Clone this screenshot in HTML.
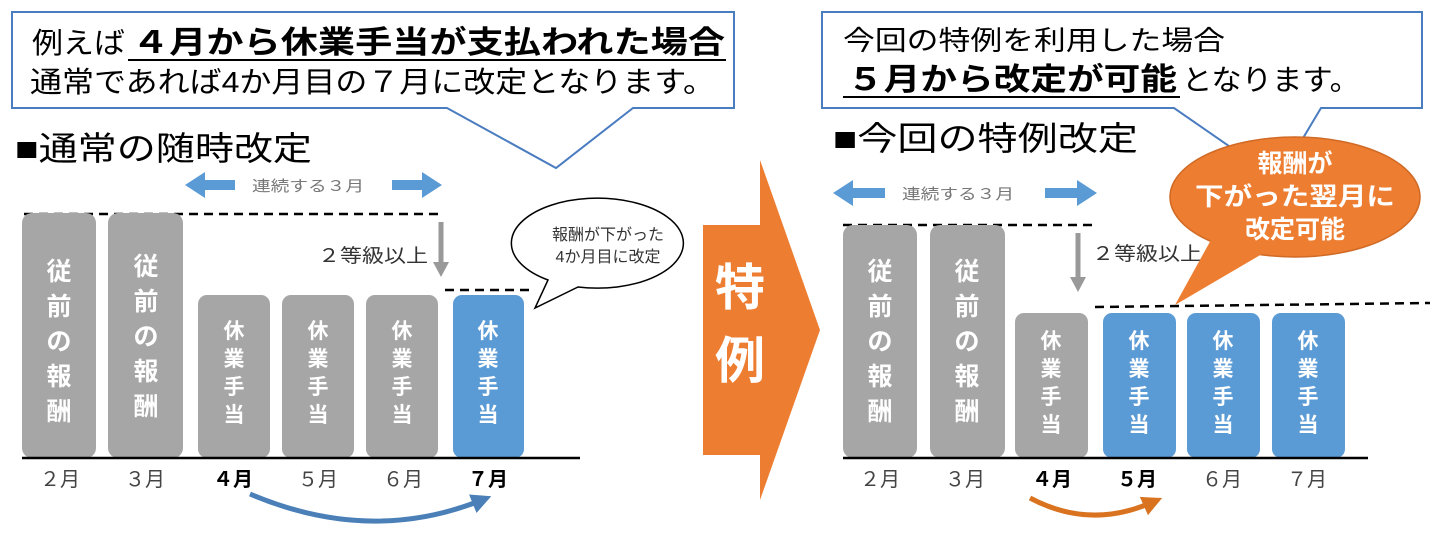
<!DOCTYPE html>
<html><head><meta charset="utf-8"><style>
body{margin:0;background:#fff}
svg{display:block}
text{font-family:"Liberation Sans","Noto Sans CJK JP",sans-serif}
</style></head><body>
<svg width="1438" height="536" viewBox="0 0 1438 536" xmlns="http://www.w3.org/2000/svg">
<defs>
<marker id="ab" markerWidth="4" markerHeight="4" refX="2" refY="2" orient="auto" markerUnits="strokeWidth"><path d="M0,0 L4,2 L0,4 z" fill="#4a7fb8"/></marker>
<marker id="ao" markerWidth="4" markerHeight="4" refX="2" refY="2" orient="auto" markerUnits="strokeWidth"><path d="M0,0 L4,2 L0,4 z" fill="#d9731f"/></marker>
</defs>
<!-- left callout -->
<path d="M12,12 H734 V108 H633 L556,168 L447,108 H12 Z" fill="#fff" stroke="#4a7cc0" stroke-width="2"/>
<text x="32" y="53" font-size="29" textLength="93" lengthAdjust="spacingAndGlyphs">例えば</text>
<text x="132" y="53" font-size="31" font-weight="bold" textLength="593" lengthAdjust="spacingAndGlyphs">４月から休業手当が支払われた場合</text>
<line x1="128" y1="60" x2="726" y2="60" stroke="#000" stroke-width="2"/>
<text x="30" y="92" font-size="29" textLength="685" lengthAdjust="spacingAndGlyphs">通常であれば4か月目の７月に改定となります。</text>
<!-- right callout -->
<path d="M822,12 H1422 V108 H1321 L1278,180 L1174,108 H822 Z" fill="#fff" stroke="#4a7cc0" stroke-width="2"/>
<text x="843" y="50" font-size="27" textLength="382" lengthAdjust="spacingAndGlyphs">今回の特例を利用した場合</text>
<text x="847" y="90" font-size="31" font-weight="bold" textLength="330" lengthAdjust="spacingAndGlyphs">５月から改定が可能</text>
<line x1="843" y1="97" x2="1180" y2="97" stroke="#000" stroke-width="2"/>
<text x="1182" y="90" font-size="29" textLength="178" lengthAdjust="spacingAndGlyphs">となります。</text>
<!-- titles -->
<text x="15" y="160" font-size="33" textLength="297" lengthAdjust="spacingAndGlyphs">■通常の随時改定</text>
<text x="833" y="150" font-size="33" textLength="305" lengthAdjust="spacingAndGlyphs">■今回の特例改定</text>
<!-- left chart -->
<path d="M185,185 L205,172 V180 H235 V190 H205 V198 Z" fill="#5b9bd5"/>
<path d="M442,185 L422,172 V180 H392 V190 H422 V198 Z" fill="#5b9bd5"/>
<text x="252" y="191" font-size="15" fill="#777" textLength="112" lengthAdjust="spacingAndGlyphs">連続する３月</text>
<line x1="24" y1="214" x2="440" y2="214" stroke="#000" stroke-width="2.5" stroke-dasharray="9,6"/>
<line x1="441" y1="222" x2="441" y2="265" stroke="#999" stroke-width="5"/>
<path d="M433,262 L449,262 L441,277 Z" fill="#999"/>
<text x="318" y="262" font-size="19" fill="#333" textLength="110" lengthAdjust="spacingAndGlyphs">２等級以上</text>
<g fill="#a6a6a6">
<rect x="22" y="213" width="74" height="245" rx="10"/>
<rect x="108" y="213" width="75" height="245" rx="10"/>
<rect x="198" y="295" width="72" height="163" rx="9"/>
<rect x="282" y="295" width="72" height="163" rx="9"/>
<rect x="366" y="295" width="72" height="163" rx="9"/>
</g>
<rect x="453" y="295" width="71" height="163" rx="9" fill="#5b9bd5"/>
<line x1="445" y1="290" x2="535" y2="290" stroke="#000" stroke-width="2.5" stroke-dasharray="9,6"/>
<g fill="#fff" font-size="25" font-weight="bold" text-anchor="middle">
<text x="59" y="280">従</text><text x="59" y="315">前</text><text x="59" y="350">の</text><text x="59" y="385">報</text><text x="59" y="420">酬</text>
<text x="146" y="275">従</text><text x="146" y="310">前</text><text x="146" y="345">の</text><text x="146" y="380">報</text><text x="146" y="415">酬</text>
</g>
<g fill="#fff" font-size="21" font-weight="bold" text-anchor="middle">
<text x="234" y="338">休</text><text x="234" y="366">業</text><text x="234" y="394">手</text><text x="234" y="422">当</text>
<text x="318" y="338">休</text><text x="318" y="366">業</text><text x="318" y="394">手</text><text x="318" y="422">当</text>
<text x="402" y="338">休</text><text x="402" y="366">業</text><text x="402" y="394">手</text><text x="402" y="422">当</text>
<text x="488" y="338">休</text><text x="488" y="366">業</text><text x="488" y="394">手</text><text x="488" y="422">当</text>
</g>
<line x1="22" y1="458" x2="580" y2="458" stroke="#000" stroke-width="2.5"/>
<g font-size="20" text-anchor="middle" fill="#444">
<text x="60" y="486">２月</text><text x="145" y="486">３月</text>
<text x="233" y="486" font-weight="bold" fill="#000">４月</text>
<text x="318" y="486">５月</text><text x="403" y="486">６月</text>
<text x="488" y="486" font-weight="bold" fill="#000">７月</text>
</g>
<path d="M250,494 Q370,545 482,500" fill="none" stroke="#4a7fb8" stroke-width="5" marker-end="url(#ab)"/>
<!-- left speech bubble -->
<path d="M548,280 A86,45 0 1 1 578,287 L535,308 Z" fill="#fff" stroke="#000" stroke-width="1.5"/>
<text x="608" y="240" font-size="16" text-anchor="middle" fill="#333">報酬が下がった</text>
<text x="608" y="262" font-size="16" text-anchor="middle" fill="#333">4か月目に改定</text>
<!-- big orange arrow -->
<path d="M703,225 H760 V160 L820,330 L760,500 V455 H703 Z" fill="#ed7d31"/>
<text x="740" y="305" font-size="50" font-weight="bold" fill="#fff" text-anchor="middle">特</text>
<text x="740" y="378" font-size="50" font-weight="bold" fill="#fff" text-anchor="middle">例</text>
<!-- right chart -->
<path d="M833,193 L853,180 V188 H885 V198 H853 V206 Z" fill="#5b9bd5"/>
<path d="M1097,193 L1077,180 V188 H1045 V198 H1077 V206 Z" fill="#5b9bd5"/>
<text x="902" y="199" font-size="15" fill="#777" textLength="112" lengthAdjust="spacingAndGlyphs">連続する３月</text>
<line x1="843" y1="225" x2="1093" y2="225" stroke="#000" stroke-width="2.5" stroke-dasharray="9,6"/>
<line x1="1078" y1="233" x2="1078" y2="280" stroke="#999" stroke-width="5"/>
<path d="M1070,277 L1086,277 L1078,292 Z" fill="#999"/>
<text x="1092" y="260" font-size="19" fill="#333" textLength="110" lengthAdjust="spacingAndGlyphs">２等級以上</text>
<g fill="#a6a6a6">
<rect x="843" y="225" width="74" height="233" rx="10"/>
<rect x="930" y="225" width="75" height="233" rx="10"/>
<rect x="1015" y="313" width="73" height="145" rx="9"/>
</g>
<g fill="#5b9bd5">
<rect x="1103" y="313" width="73" height="145" rx="9"/>
<rect x="1187" y="313" width="73" height="145" rx="9"/>
<rect x="1272" y="313" width="73" height="145" rx="9"/>
</g>
<line x1="1095" y1="307" x2="1430" y2="303" stroke="#000" stroke-width="2.5" stroke-dasharray="9,6"/>
<g fill="#fff" font-size="25" font-weight="bold" text-anchor="middle">
<text x="880" y="280">従</text><text x="880" y="315">前</text><text x="880" y="350">の</text><text x="880" y="385">報</text><text x="880" y="420">酬</text>
<text x="967" y="280">従</text><text x="967" y="315">前</text><text x="967" y="350">の</text><text x="967" y="385">報</text><text x="967" y="420">酬</text>
</g>
<g fill="#fff" font-size="21" font-weight="bold" text-anchor="middle">
<text x="1051" y="348">休</text><text x="1051" y="376">業</text><text x="1051" y="404">手</text><text x="1051" y="432">当</text>
<text x="1139" y="348">休</text><text x="1139" y="376">業</text><text x="1139" y="404">手</text><text x="1139" y="432">当</text>
<text x="1223" y="348">休</text><text x="1223" y="376">業</text><text x="1223" y="404">手</text><text x="1223" y="432">当</text>
<text x="1308" y="348">休</text><text x="1308" y="376">業</text><text x="1308" y="404">手</text><text x="1308" y="432">当</text>
</g>
<line x1="843" y1="458" x2="1368" y2="458" stroke="#000" stroke-width="2.5"/>
<g font-size="20" text-anchor="middle" fill="#444">
<text x="880" y="486">２月</text><text x="965" y="486">３月</text>
<text x="1052" y="486" font-weight="bold" fill="#000">４月</text>
<text x="1137" y="486" font-weight="bold" fill="#000">５月</text>
<text x="1222" y="486">６月</text><text x="1307" y="486">７月</text>
</g>
<path d="M1030,498 Q1090,530 1153,502" fill="none" stroke="#d9731f" stroke-width="5" marker-end="url(#ao)"/>
<!-- orange bubble -->
<ellipse cx="1295" cy="197" rx="125" ry="60" fill="#ed7d31" stroke="#d06a25" stroke-width="1.5"/>
<path d="M1212,238 L1262,254 L1175,305 Z" fill="#ed7d31"/>
<g fill="#fff" font-size="25" font-weight="bold" text-anchor="middle">
<text x="1295" y="172">報酬が</text>
<text x="1295" y="205" textLength="200" lengthAdjust="spacingAndGlyphs">下がった翌月に</text>
<text x="1295" y="238">改定可能</text>
</g>
</svg>
</body></html>
